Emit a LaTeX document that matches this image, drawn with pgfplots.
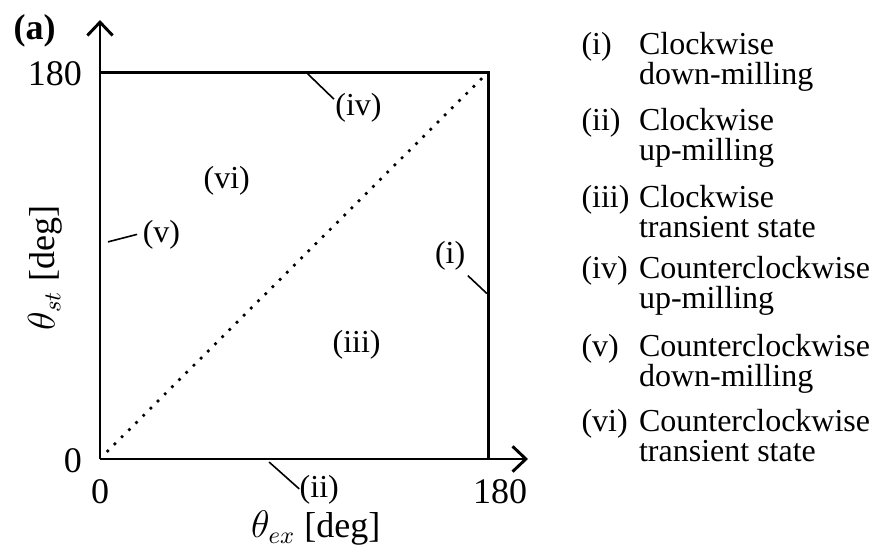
\documentclass[border=0pt]{standalone}
\usepackage{fontspec}
\setmainfont{Liberation Serif}
\usepackage{pgfplots}
\pgfplotsset{compat=1.18}
\usetikzlibrary{arrows.meta}
\begin{document}
\fontsize{12}{14}\selectfont
\begin{tikzpicture}[x=0.375pt,y=-0.375pt]
\path (0,0) rectangle (879,547);
\coordinate (O) at (100,459);
\begin{axis}[
  at={(O)}, anchor=origin,
  scale only axis, width=160.5pt, height=164.6pt,
  xmin=0, xmax=198.5, ymin=0, ymax=204.2,
  clip=false,
  axis lines=left,
  axis line style={line width=1.1pt,-{Straight Barb[length=5pt,width=9.5pt,line width=1.1pt]}},
  xtick={0,180}, ytick={0,180},
  xticklabels={0,\hspace*{9pt}180},
  major tick length=0pt,
  /pgf/number format/assume math mode=true,
  ticklabel style={font=\fontsize{13.5}{15}\selectfont},
  xticklabel style={yshift=-3.5pt},
  yticklabel style={xshift=-2.6pt, yshift=-0.5pt},
  xlabel={$\theta_{ex}$ [deg]},
  ylabel={$\theta_{st}$ [deg]},
  label style={font=\fontsize{13.5}{15}\selectfont},
  xlabel style={at={(axis description cs:0.504,-0.157)}, anchor=center},
  ylabel style={at={(axis description cs:-0.128,0.435)}, anchor=center},
]
\addplot[line width=1.1pt, black] coordinates {(0,180) (180,180) (180,0)};
\addplot[line width=1.4pt, black, line cap=round, dash pattern=on 0pt off 3.8pt] coordinates {(3.6,3.7) (178,178)};
% leader lines
\addplot[line width=0.6pt, black] coordinates {(95.5,180) (108.5,167.4)};
\addplot[line width=0.6pt, black] coordinates {(3.7,101) (17.2,104.5)};
\addplot[line width=0.6pt, black] coordinates {(170.6,85.3) (179.4,77)};
\addplot[line width=0.6pt, black] coordinates {(78.4,-1.4) (92.4,-13.9)};
% region labels
\node at (axis cs:119.9,163.3) {(iv)};
\node at (axis cs:28.5,104.5) {(v)};
\node at (axis cs:162.4,94.6) {(i)};
\node at (axis cs:101.7,-14.4) {(ii)};
\node at (axis cs:119,53.3) {(iii)};
\node at (axis cs:58.8,129.4) {(vi)};
\end{axis}
\node[anchor=base west, inner sep=0, font=\bfseries\fontsize{13.5}{15}\selectfont] at (13,40) {(a)};
% legend
\begin{scope}[every node/.style={anchor=base west, inner sep=0}]
\node at (581,55) {(i)};   \node at (638.5,55) {Clockwise};        \node at (638.5,85) {down-milling};
\node at (581,131) {(ii)}; \node at (638.5,131) {Clockwise};       \node at (638.5,161) {up-milling};
\node at (581,208) {(iii)};\node at (638.5,208) {Clockwise};       \node at (638.5,238) {transient state};
\node at (581,279) {(iv)}; \node at (638.5,279) {Counterclockwise};\node at (638.5,309) {up-milling};
\node at (581,357) {(v)};  \node at (638.5,357) {Counterclockwise};\node at (638.5,387) {down-milling};
\node at (581,432) {(vi)}; \node at (638.5,432) {Counterclockwise};\node at (638.5,462) {transient state};
\end{scope}
\end{tikzpicture}
\end{document}
